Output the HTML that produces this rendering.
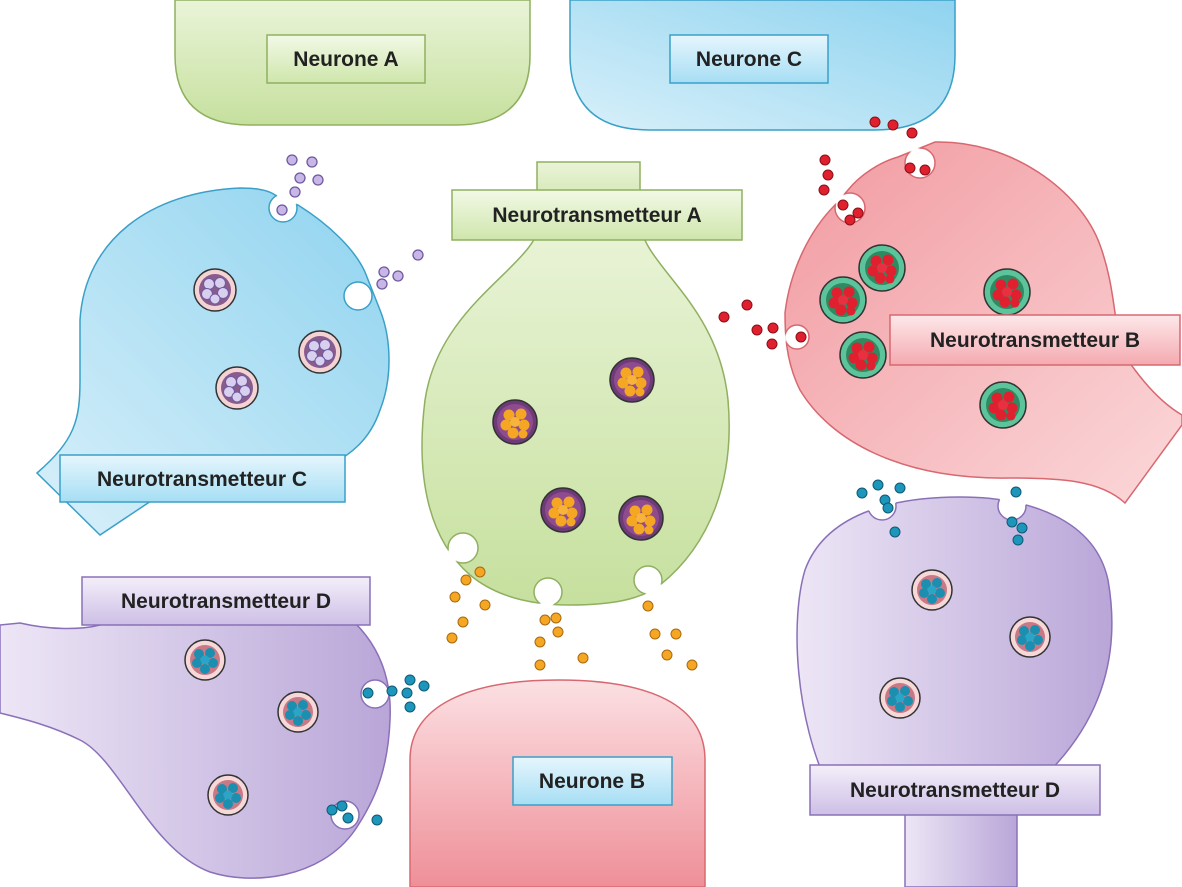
<!DOCTYPE html>
<html><head><meta charset="utf-8"><style>
html,body{margin:0;padding:0;background:#fff;}
svg{display:block;}
text{font-family:"Liberation Sans",sans-serif;font-weight:bold;font-size:21px;fill:#222;}
</style></head><body>
<svg width="1182" height="887" viewBox="0 0 1182 887" xmlns="http://www.w3.org/2000/svg">
<defs>
<linearGradient id="gG" x1="0" y1="0" x2="0" y2="1"><stop offset="0" stop-color="#eaf4d8"/><stop offset="1" stop-color="#c6e09e"/></linearGradient>
<linearGradient id="gB" x1="1" y1="0" x2="0" y2="1"><stop offset="0" stop-color="#8fd3ef"/><stop offset="1" stop-color="#d8f0fa"/></linearGradient>
<linearGradient id="gR" x1="0" y1="0" x2="1" y2="1"><stop offset="0" stop-color="#f19aa0"/><stop offset="1" stop-color="#fbd8da"/></linearGradient>
<linearGradient id="gP" x1="1" y1="0" x2="0" y2="0"><stop offset="0" stop-color="#b9a6d8"/><stop offset="1" stop-color="#ede6f6"/></linearGradient>
<linearGradient id="gPk" x1="0" y1="0" x2="0" y2="1"><stop offset="0" stop-color="#fbe0e3"/><stop offset="1" stop-color="#ef8f98"/></linearGradient>
<linearGradient id="lG" x1="0" y1="0" x2="0" y2="1"><stop offset="0" stop-color="#f2f9e6"/><stop offset="1" stop-color="#cfe6ac"/></linearGradient>
<linearGradient id="lB" x1="0" y1="0" x2="0" y2="1"><stop offset="0" stop-color="#e6f6fd"/><stop offset="1" stop-color="#a6def4"/></linearGradient>
<linearGradient id="lR" x1="0" y1="0" x2="0" y2="1"><stop offset="0" stop-color="#fde8ea"/><stop offset="1" stop-color="#f4aab0"/></linearGradient>
<linearGradient id="lP" x1="0" y1="0" x2="0" y2="1"><stop offset="0" stop-color="#f4effa"/><stop offset="1" stop-color="#cdbfe6"/></linearGradient>
<clipPath id="cBlue"><path d="M37,473 C75,440 80,420 80,380 L80,320 C85,240 150,192 240,188 C255,188 268,190 275,195 L298,205 C330,225 355,250 365,272 L380,310 C392,340 392,380 380,410 C370,440 350,455 330,465 L157,497 L100,535 Z"/></clipPath>
<clipPath id="cGreen"><path d="M540,220 C540,265 440,300 425,400 C415,480 430,540 470,575 C500,600 540,605 570,605 C610,605 640,600 660,585 C710,545 735,480 728,400 C718,300 640,265 640,220 Z"/></clipPath>
<clipPath id="cRed"><path d="M935,142 C1010,140 1080,190 1100,245 C1120,300 1110,340 1135,370 C1150,390 1165,405 1182,415 L1182,425 L1125,503 C1100,480 1060,478 1010,478 C900,480 830,440 800,390 C785,360 785,330 785,313 C790,270 810,230 835,205 L848,190 C860,175 880,162 898,157 Z"/></clipPath>
<clipPath id="cPL"><path d="M20,623 C50,630 80,630 100,625 C150,590 260,555 340,610 C380,640 392,680 390,720 C388,770 375,800 355,830 C320,880 250,885 210,872 C150,850 120,760 80,740 C50,725 20,718 0,713 L0,625 Z"/></clipPath>
<clipPath id="cPR"><path d="M830,790 C795,720 790,620 805,570 C825,515 890,497 960,497 C1030,497 1095,520 1108,580 C1122,660 1100,740 1010,805 L910,805 Z"/></clipPath>
<g id="vL"><circle r="21" fill="#f3d3d3" stroke="#333" stroke-width="1.5"/><circle r="16" fill="#8a5c8e"/><circle cx="-6" cy="-6" r="5.5" fill="#d8d0ee" stroke="#6e5aa0"/><circle cx="5" cy="-7" r="5.5" fill="#d8d0ee" stroke="#6e5aa0"/><circle cx="8" cy="3" r="5.5" fill="#d8d0ee" stroke="#6e5aa0"/><circle cx="-8" cy="4" r="5.5" fill="#d8d0ee" stroke="#6e5aa0"/><circle cx="0" cy="9" r="5" fill="#d8d0ee" stroke="#6e5aa0"/></g>
<g id="vO"><circle r="22" fill="#6e3a78" stroke="#333" stroke-width="1.5"/><circle r="18" fill="#8e4c8e"/><circle cx="-6" cy="-7" r="5.5" fill="#f5a623"/><circle cx="6" cy="-8" r="5.5" fill="#f5a623"/><circle cx="9" cy="3" r="5.5" fill="#f5a623"/><circle cx="-9" cy="3" r="5.5" fill="#f5a623"/><circle cx="0" cy="0" r="5" fill="#f8b43a"/><circle cx="-2" cy="11" r="5.5" fill="#f5a623"/><circle cx="8" cy="12" r="4.5" fill="#f5a623"/></g>
<g id="vR"><circle r="23" fill="#5cc49a" stroke="#333" stroke-width="1.5"/><circle r="17" fill="#2f8a63"/><circle cx="-6" cy="-7" r="5.5" fill="#e0202e"/><circle cx="6" cy="-8" r="5.5" fill="#e0202e"/><circle cx="9" cy="3" r="5.5" fill="#e0202e"/><circle cx="-9" cy="3" r="5.5" fill="#e0202e"/><circle cx="0" cy="0" r="5" fill="#e83040"/><circle cx="-2" cy="10" r="5.5" fill="#e0202e"/><circle cx="8" cy="11" r="4.5" fill="#e0202e"/></g>
<g id="vT"><circle r="20" fill="#f6d8d8" stroke="#333" stroke-width="1.5"/><circle r="15" fill="#c97886"/><circle cx="-6" cy="-6" r="5" fill="#1a8fb0"/><circle cx="5" cy="-7" r="5" fill="#1a8fb0"/><circle cx="8" cy="3" r="5" fill="#1a8fb0"/><circle cx="-8" cy="3" r="5" fill="#1a8fb0"/><circle cx="0" cy="0" r="4.5" fill="#2aa5c8"/><circle cx="0" cy="9" r="5" fill="#1a8fb0"/></g>
<circle id="pL" r="5" fill="#c7b6e6" stroke="#6e5aa0" stroke-width="1.3"/>
<circle id="pR" r="5" fill="#e0202e" stroke="#8a1018" stroke-width="1"/>
<circle id="pT" r="5" fill="#1e96bb" stroke="#0e5a74" stroke-width="1"/>
<circle id="pO" r="5" fill="#f5a623" stroke="#a86a10" stroke-width="1"/>
</defs>

<path d="M175,0 L530,0 L530,55 Q530,125 455,125 L250,125 Q175,125 175,55 Z" fill="url(#gG)" stroke="#8fb060" stroke-width="1.5"/>
<path d="M570,0 L955,0 L955,55 Q955,130 875,130 L650,130 Q570,130 570,55 Z" fill="url(#gB)" stroke="#3aa0c8" stroke-width="1.5"/>

<path d="M37,473 C75,440 80,420 80,380 L80,320 C85,240 150,192 240,188 C255,188 268,190 275,195 L298,205 C330,225 355,250 365,272 L380,310 C392,340 392,380 380,410 C370,440 350,455 330,465 L157,497 L100,535 Z" fill="url(#gB)" stroke="#3aa0c8" stroke-width="1.5"/>
<g fill="#fff"><circle cx="283" cy="208" r="14"/><circle cx="358" cy="296" r="14"/></g>
<g clip-path="url(#cBlue)" fill="none" stroke="#3aa0c8" stroke-width="1.5">
<circle cx="283" cy="208" r="14"/><circle cx="358" cy="296" r="14"/></g>

<rect x="537" y="162" width="103" height="60" fill="url(#gG)" stroke="#8fb060" stroke-width="1.5"/>
<path d="M540,220 C540,265 440,300 425,400 C415,480 430,540 470,575 C500,600 540,605 570,605 C610,605 640,600 660,585 C710,545 735,480 728,400 C718,300 640,265 640,220 Z" fill="url(#gG)" stroke="#8fb060" stroke-width="1.5"/>
<g fill="#fff"><circle cx="463" cy="548" r="15"/><circle cx="548" cy="592" r="14"/><circle cx="648" cy="580" r="14"/></g>
<g clip-path="url(#cGreen)" fill="none" stroke="#8fb060" stroke-width="1.5">
<circle cx="463" cy="548" r="15"/><circle cx="548" cy="592" r="14"/><circle cx="648" cy="580" r="14"/></g>

<path d="M935,142 C1010,140 1080,190 1100,245 C1120,300 1110,340 1135,370 C1150,390 1165,405 1182,415 L1182,425 L1125,503 C1100,480 1060,478 1010,478 C900,480 830,440 800,390 C785,360 785,330 785,313 C790,270 810,230 835,205 L848,190 C860,175 880,162 898,157 Z" fill="url(#gR)" stroke="#d86870" stroke-width="1.5"/>
<g fill="#fff"><circle cx="920" cy="163" r="15"/><circle cx="850" cy="208" r="15"/><circle cx="797" cy="337" r="12"/></g>
<g clip-path="url(#cRed)" fill="none" stroke="#d86870" stroke-width="1.5">
<circle cx="920" cy="163" r="15"/><circle cx="850" cy="208" r="15"/><circle cx="797" cy="337" r="12"/></g>

<path d="M20,623 C50,630 80,630 100,625 C150,590 260,555 340,610 C380,640 392,680 390,720 C388,770 375,800 355,830 C320,880 250,885 210,872 C150,850 120,760 80,740 C50,725 20,718 0,713 L0,625 Z" fill="url(#gP)" stroke="#8a70b8" stroke-width="1.5"/>
<g fill="#fff"><circle cx="375" cy="694" r="14"/><circle cx="345" cy="815" r="14"/></g>
<g clip-path="url(#cPL)" fill="none" stroke="#8a70b8" stroke-width="1.5">
<circle cx="375" cy="694" r="14"/><circle cx="345" cy="815" r="14"/></g>

<path d="M410,887 L410,760 C410,705 470,680 558,680 C650,680 705,705 705,760 L705,887 Z" fill="url(#gPk)" stroke="#d86870" stroke-width="1.5"/>

<rect x="905" y="800" width="112" height="87" fill="url(#gP)" stroke="#8a70b8" stroke-width="1.5"/>
<path d="M830,790 C795,720 790,620 805,570 C825,515 890,497 960,497 C1030,497 1095,520 1108,580 C1122,660 1100,740 1010,805 L910,805 Z" fill="url(#gP)" stroke="#8a70b8" stroke-width="1.5"/>
<g fill="#fff"><circle cx="882" cy="506" r="14"/><circle cx="1012" cy="506" r="14"/></g>
<g clip-path="url(#cPR)" fill="none" stroke="#8a70b8" stroke-width="1.5">
<circle cx="882" cy="506" r="14"/><circle cx="1012" cy="506" r="14"/></g>

<use href="#vL" x="215" y="290"/><use href="#vL" x="320" y="352"/><use href="#vL" x="237" y="388"/>
<use href="#vO" x="515" y="422"/><use href="#vO" x="632" y="380"/><use href="#vO" x="563" y="510"/><use href="#vO" x="641" y="518"/>
<use href="#vR" x="882" y="268"/><use href="#vR" x="843" y="300"/><use href="#vR" x="1007" y="292"/><use href="#vR" x="863" y="355"/><use href="#vR" x="1003" y="405"/>
<use href="#vT" x="205" y="660"/><use href="#vT" x="298" y="712"/><use href="#vT" x="228" y="795"/><use href="#vT" x="932" y="590"/><use href="#vT" x="1030" y="637"/><use href="#vT" x="900" y="698"/>

<use href="#pL" x="292" y="160"/><use href="#pL" x="312" y="162"/><use href="#pL" x="300" y="178"/><use href="#pL" x="318" y="180"/><use href="#pL" x="295" y="192"/><use href="#pL" x="282" y="210"/>
<use href="#pL" x="384" y="272"/><use href="#pL" x="398" y="276"/><use href="#pL" x="382" y="284"/><use href="#pL" x="418" y="255"/>
<use href="#pR" x="875" y="122"/><use href="#pR" x="893" y="125"/><use href="#pR" x="912" y="133"/><use href="#pR" x="825" y="160"/><use href="#pR" x="828" y="175"/><use href="#pR" x="824" y="190"/><use href="#pR" x="910" y="168"/><use href="#pR" x="925" y="170"/><use href="#pR" x="843" y="205"/><use href="#pR" x="858" y="213"/><use href="#pR" x="850" y="220"/>
<use href="#pR" x="724" y="317"/><use href="#pR" x="747" y="305"/><use href="#pR" x="757" y="330"/><use href="#pR" x="773" y="328"/><use href="#pR" x="772" y="344"/><use href="#pR" x="801" y="337"/>
<use href="#pT" x="862" y="493"/><use href="#pT" x="878" y="485"/><use href="#pT" x="885" y="500"/><use href="#pT" x="900" y="488"/><use href="#pT" x="888" y="508"/><use href="#pT" x="895" y="532"/>
<use href="#pT" x="1016" y="492"/><use href="#pT" x="1012" y="522"/><use href="#pT" x="1022" y="528"/><use href="#pT" x="1018" y="540"/>
<use href="#pT" x="368" y="693"/><use href="#pT" x="392" y="691"/><use href="#pT" x="410" y="680"/><use href="#pT" x="407" y="693"/><use href="#pT" x="424" y="686"/><use href="#pT" x="410" y="707"/>
<use href="#pT" x="332" y="810"/><use href="#pT" x="342" y="806"/><use href="#pT" x="348" y="818"/><use href="#pT" x="377" y="820"/>
<use href="#pO" x="466" y="580"/><use href="#pO" x="480" y="572"/><use href="#pO" x="455" y="597"/><use href="#pO" x="485" y="605"/><use href="#pO" x="463" y="622"/><use href="#pO" x="452" y="638"/>
<use href="#pO" x="545" y="620"/><use href="#pO" x="558" y="632"/><use href="#pO" x="540" y="642"/><use href="#pO" x="583" y="658"/><use href="#pO" x="540" y="665"/><use href="#pO" x="556" y="618"/>
<use href="#pO" x="648" y="606"/><use href="#pO" x="655" y="634"/><use href="#pO" x="676" y="634"/><use href="#pO" x="667" y="655"/><use href="#pO" x="692" y="665"/>

<g stroke-width="1.5">
<rect x="267" y="35" width="158" height="48" fill="url(#lG)" stroke="#8fb060"/>
<rect x="670" y="35" width="158" height="48" fill="url(#lB)" stroke="#3aa0c8"/>
<rect x="452" y="190" width="290" height="50" fill="url(#lG)" stroke="#8fb060"/>
<rect x="60" y="455" width="285" height="47" fill="url(#lB)" stroke="#3aa0c8"/>
<rect x="890" y="315" width="290" height="50" fill="url(#lR)" stroke="#d86870"/>
<rect x="82" y="577" width="288" height="48" fill="url(#lP)" stroke="#8a70b8"/>
<rect x="513" y="757" width="159" height="48" fill="url(#lB)" stroke="#3aa0c8"/>
<rect x="810" y="765" width="290" height="50" fill="url(#lP)" stroke="#8a70b8"/>
</g>
<text x="346" y="66" text-anchor="middle">Neurone A</text>
<text x="749" y="66" text-anchor="middle">Neurone C</text>
<text x="597" y="222" text-anchor="middle">Neurotransmetteur A</text>
<text x="202" y="486" text-anchor="middle">Neurotransmetteur C</text>
<text x="1035" y="347" text-anchor="middle">Neurotransmetteur B</text>
<text x="226" y="608" text-anchor="middle">Neurotransmetteur D</text>
<text x="592" y="788" text-anchor="middle">Neurone B</text>
<text x="955" y="797" text-anchor="middle">Neurotransmetteur D</text>
</svg>
</body></html>
